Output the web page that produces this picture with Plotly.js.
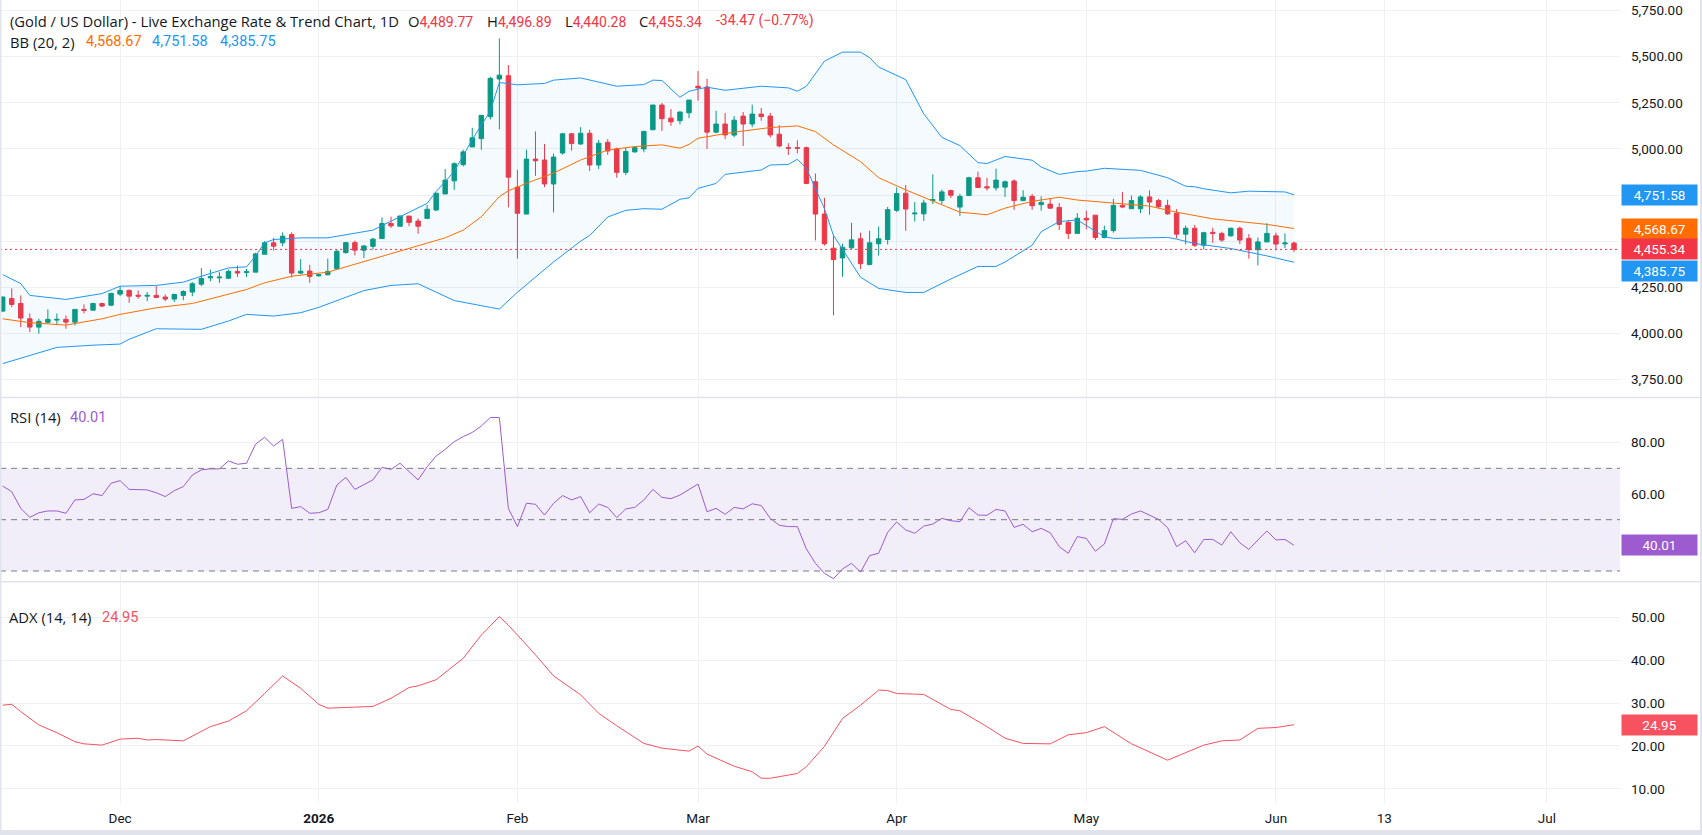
<!DOCTYPE html>
<html><head><meta charset="utf-8">
<script src="https://cdn.plot.ly/plotly-3.0.1.min.js"></script>
<style>html,body{margin:0;padding:0;background:#fff;overflow:hidden}#chart{width:1702px;height:835px}</style>
</head><body><div id="chart"></div>
<script>
// ---- Daily candles (bar index 0 = 12 Nov 2025 ... 143 = 3 Jun 2026) ----
const open=[4121,4189,4162,4079,4034,4060,4072,4076,4061,4130,
4126,4162,4153,4213,4233,4207,4202,4206,4197,4186,
4206,4224,4267,4301,4301,4299,4336,4330,4332,4429,
4491,4491,4536,4327,4338,4312,4318,4350,4438,4492,
4451,4472,4514,4596,4581,4636,4609,4623,4669,4756,
4827,4915,5011,5056,5175,5379,5397,4793,4647,4945,
4940,4810,4978,5082,5027,5085,4913,5036,5000,4873,
4984,5000,5104,5238,5167,5153,5196,5340,5336,5091,
5135,5075,5178,5135,5189,5178,5080,5007,5007,5007,
4822,4647,4462,4409,4464,4513,4373,4486,4509,4667,
4760,4648,4648,4720,4720,4774,4685,4747,4844,4795,
4789,4793,4826,4720,4743,4698,4701,4683,4602,4542,
4624,4641,4520,4557,4694,4676,4676,4740,4720,4694,
4652,4538,4570,4478,4548,4542,4529,4570,4515,4454,
4496,4529,4485,4489.77];
const high=[4200,4244,4206,4108,4079,4130,4108,4097,4131,4157,
4166,4166,4217,4256,4238,4233,4224,4256,4211,4215,
4234,4278,4354,4346,4332,4346,4368,4350,4437,4500,
4518,4548,4548,4403,4372,4323,4405,4454,4496,4503,
4478,4518,4629,4633,4640,4636,4623,4696,4760,4891,
4927,4996,5115,5182,5391,5600,5455,4887,4996,5095,
5027,4975,5087,5087,5118,5104,5049,5053,5007,5007,
5013,5098,5238,5249,5216,5204,5265,5422,5380,5207,
5195,5178,5200,5240,5222,5195,5129,5031,5047,5013,
4867,4735,4536,4486,4600,4546,4556,4580,4686,4791,
4804,4712,4725,4862,4780,4780,4756,4849,4877,4844,
4893,4829,4835,4776,4756,4743,4730,4707,4615,4652,
4665,4641,4584,4729,4767,4747,4749,4776,4729,4725,
4674,4584,4588,4551,4573,4551,4573,4579,4538,4520,
4597,4546,4542,4496.89];
const low=[4115,4142,4034,4007,3998,4054,4045,4025,4043,4108,
4124,4142,4148,4202,4166,4188,4175,4190,4175,4170,
4180,4202,4256,4283,4274,4296,4306,4306,4332,4429,
4449,4473,4303,4320,4274,4308,4314,4350,4432,4423,
4409,4454,4514,4572,4581,4581,4540,4623,4663,4756,
4778,4905,5011,4996,5160,5106,4683,4405,4647,4854,
4793,4656,4969,4991,5022,4880,4891,4967,4844,4858,
4980,4982,5104,5098,5125,5133,5167,5262,5000,5085,
5053,5064,5016,5118,5153,5062,5009,4967,4976,4809,
4504,4476,4098,4307,4458,4349,4373,4422,4482,4658,
4556,4606,4610,4701,4701,4734,4637,4747,4791,4774,
4774,4740,4670,4716,4670,4665,4676,4560,4511,4542,
4564,4506,4515,4546,4679,4676,4652,4643,4676,4643,
4515,4482,4469,4454,4491,4496,4524,4484,4405,4368,
4496,4451,4463,4440.28];
const close=[4197,4157,4083,4034,4065,4076,4076,4061,4130,4125,
4162,4148,4217,4233,4202,4202,4206,4195,4186,4211,
4227,4269,4298,4307,4305,4336,4327,4334,4431,4491,
4473,4527,4327,4337,4309,4318,4336,4445,4492,4451,
4474,4511,4596,4583,4636,4602,4581,4673,4760,4831,
4920,4984,5060,5182,5382,5400,4847,4651,4945,4936,
4810,4956,5082,5029,5085,4913,5031,4989,4873,4986,
5007,5095,5238,5164,5147,5200,5265,5331,5091,5135,
5076,5156,5135,5189,5175,5076,5016,5004,5004,4813,
4647,4486,4400,4467,4507,4378,4491,4513,4671,4758,
4674,4652,4707,4725,4767,4749,4743,4844,4791,4789,
4831,4822,4720,4738,4692,4710,4679,4591,4542,4624,
4615,4520,4557,4694,4685,4720,4740,4712,4688,4648,
4538,4570,4478,4546,4542,4506,4570,4506,4454,4496,
4542,4484,4489.81,4455.34];

// ---- Bollinger Bands (20, 2), read at sample bars ----
const bbUpperIdx=[0,2,3,7,11,13,17,20,22,25,27,28,29,30,33,36,41,44,46,47,48,50,52,54,55,57,60,61,64,68,71,72,73,75,76,78,80,84,87,88,89,91,93,95,96,97,100,102,104,106,108,109,111,114,115,117,119,120,122,126,129,131,132,133,136,138,142,143];
const bbUpper=[4319,4270,4206,4184,4216,4256,4260,4278,4310,4355,4361,4420,4491,4509,4518,4518,4560,4632,4678,4705,4769,4878,5051,5206,5360,5348,5355,5373,5385,5340,5349,5373,5371,5280,5313,5335,5318,5340,5331,5313,5340,5476,5525,5525,5495,5444,5376,5190,5063,5018,4926,4921,4959,4939,4902,4862,4877,4880,4895,4884,4844,4798,4795,4784,4762,4771,4767,4751.58];
const bbBasisIdx=[0,3,7,11,13,17,21,25,27,29,32,36,41,45,49,51,53,55,56,58,61,64,67,70,73,75,76,77,81,85,88,90,92,95,97,100,103,106,109,111,114,117,119,123,127,130,134,140,143];
const bbBasis=[4079,4058,4045,4079,4103,4139,4162,4211,4238,4274,4310,4332,4405,4460,4518,4560,4632,4742,4773,4814,4869,4940,4994,5013,5022,5004,5025,5058,5091,5116,5125,5094,5022,4931,4844,4778,4716,4657,4643,4679,4716,4738,4723,4705,4690,4657,4621,4591,4568.67];
const bbLowerIdx=[0,2,6,10,13,14,17,22,25,27,30,33,35,40,43,46,50,54,55,57,61,64,65,67,69,71,73,75,76,77,79,80,84,85,87,88,89,91,92,95,97,100,102,105,108,110,111,114,115,117,119,122,123,129,130,132,136,140,143];
const bbLower=[3836,3866,3924,3936,3942,3968,4025,4022,4067,4103,4094,4112,4141,4232,4260,4269,4178,4141,4132,4223,4387,4500,4531,4631,4667,4676,4673,4727,4735,4786,4813,4862,4886,4913,4916,4944,4895,4676,4531,4304,4244,4222,4222,4295,4363,4363,4387,4478,4551,4606,4615,4524,4515,4520,4511,4487,4460,4420,4385.75];

// ---- RSI (14), one value per bar ----
const rsi=[63.1,60.9,54.4,50.9,52.7,53.4,53.4,52.5,57.7,57.9,
60.1,59.4,64.2,65.2,61.8,61.6,61.6,60.5,59.0,61.3,
62.9,67.4,69.4,69.8,69.8,72.9,71.6,72.0,79.4,82.1,
78.7,81.3,54.4,55.1,52.5,52.7,54.0,63.5,66.5,61.8,
63.5,65.5,70.4,69.6,72.0,68.7,65.5,70.6,74.8,77.4,
80.4,82.4,84.0,86.5,89.8,89.8,54.4,47.3,56.4,56.0,
51.8,56.4,59.4,57.7,59.0,52.7,56.1,54.8,50.8,54.2,
54.8,57.7,61.8,58.7,58.2,59.6,61.8,63.9,53.1,54.4,
52.1,54.8,54.2,56.2,55.5,50.5,47.8,47.3,47.3,38.6,
33.0,29.1,27.0,30.8,33.0,29.6,36.0,36.9,45.1,49.1,
46.0,44.7,47.5,48.3,50.5,49.6,49.2,54.7,51.8,51.7,
54.0,53.4,47.0,48.2,45.3,46.6,44.9,39.5,36.9,43.4,
42.7,37.7,40.5,50.4,50.1,52.2,53.4,51.8,50.1,46.9,
39.5,41.8,37.1,42.3,42.3,40.1,45.3,41.0,38.4,42.1,
45.6,42.1,42.3,40.01];
const rsiLevels=[70,50,30];

// ---- ADX (14, 14), read at sample bars ----
const adxIdx=[0,1,2,4,6,8,9,11,13,15,16,17,20,23,25,27,29,31,33,35,36,38,41,43,45,46,48,51,53,55,56,58,59,61,64,66,68,71,73,76,77,78,81,83,84,85,88,89,91,93,95,97,98,99,102,105,106,109,111,113,116,118,120,122,125,129,133,135,137,139,141,143];
const adx=[29.5,29.7,28.0,24.9,23.1,21.0,20.5,20.2,21.6,21.8,21.4,21.5,21.2,24.5,25.8,28.2,32.2,36.3,33.4,29.7,28.8,29.0,29.2,31.1,33.6,34.0,35.4,40.4,45.8,50.1,48.1,43.5,41.2,36.3,31.9,27.6,24.7,20.6,19.5,18.8,20.0,18.1,15.3,14.0,12.5,12.5,13.6,15.2,19.9,26.4,29.5,33.0,32.9,32.2,32.0,28.5,28.2,24.5,21.8,20.6,20.5,22.6,23.1,24.5,20.5,16.7,20.2,21.2,21.4,24.1,24.3,24.95];

// ---- Axis ticks ----
const tickIdx=[13,35,57,77,99,120,141,153,171];
const tickLabels=['Dec','<b>2026</b>','Feb','Mar','Apr','May','Jun','13','Jul'];
const priceTicks=[3750,4000,4250,4500,4750,5000,5250,5500,5750];
const rsiTicks=[40,60,80];
const adxTicks=[10,20,30,40,50];

// ---------------------------------------------------------------
const bars=close.map((_,i)=>i);
const last=a=>a[a.length-1];
const fmt=v=>v.toLocaleString('en-US',{minimumFractionDigits:2,maximumFractionDigits:2});
const GREEN='#089981',RED='#f23645',BLUE='#2196f3',ORANGE='#ff6d00',PURPLE='#9c5bcf',ADXC='#f7525f';
const TXT='#131722',GRID='#eef0f4';
const FONT='Roboto, "Liberation Sans", Arial, sans-serif';
const LFONT='"Open Sans", Roboto, sans-serif';
const axisFont={family:FONT,size:13.5,color:TXT};

// tick labels that sit behind a value box are left blank (the gridline stays)
const boxedPrice=[last(bbUpper),last(bbBasis),last(close),last(bbLower)];
const priceText=priceTicks.map(v=>boxedPrice.some(b=>Math.abs(b-v)<70&&v>4400)?'':fmt(v));
const rsiText=rsiTicks.map(v=>Math.abs(v-last(rsi))<3?'':fmt(v));
const adxText=adxTicks.map(v=>fmt(v));

const traces=[
 {x:bbUpperIdx,y:bbUpper,mode:'lines',line:{color:BLUE,width:1},hoverinfo:'skip',xaxis:'x',yaxis:'y'},
 {x:bbLowerIdx,y:bbLower,mode:'lines',line:{color:BLUE,width:1},fill:'tonexty',fillcolor:'rgba(33,150,243,0.05)',hoverinfo:'skip',xaxis:'x',yaxis:'y'},
 {x:bbBasisIdx,y:bbBasis,mode:'lines',line:{color:ORANGE,width:1},hoverinfo:'skip',xaxis:'x',yaxis:'y'},
 {type:'candlestick',x:bars,open:open,high:high,low:low,close:close,xaxis:'x',yaxis:'y',
  increasing:{line:{color:GREEN,width:1},fillcolor:GREEN},
  decreasing:{line:{color:RED,width:1},fillcolor:RED},
  whiskerwidth:0,hoverinfo:'skip'},
 {x:bars,y:rsi,mode:'lines',line:{color:PURPLE,width:1},hoverinfo:'skip',xaxis:'x',yaxis:'y2'},
 {x:adxIdx,y:adx,mode:'lines',line:{color:ADXC,width:1},hoverinfo:'skip',xaxis:'x',yaxis:'y3'}
];

const H=803, W=1620; // plot area size in px
const py=px=>(H-px)/H;
const px=x=>x/W;

const shapes=[
 {type:'rect',xref:'paper',x0:0,x1:1,yref:'y2',y0:30,y1:70,fillcolor:'rgba(126,87,194,0.1)',line:{width:0},layer:'below'},
 ...rsiLevels.map(v=>({type:'line',xref:'paper',x0:0,x1:1,yref:'y2',y0:v,y1:v,line:{color:'#787b86',width:1,dash:'6px,5px'}})),
 {type:'line',xref:'paper',x0:0,x1:1,yref:'y',y0:last(close),y1:last(close),line:{color:RED,width:1,dash:'2px,3px'}},
 {type:'line',xref:'paper',x0:0,x1:1.06,yref:'paper',y0:py(397.5),y1:py(397.5),line:{color:'#e0e3eb',width:1.5}},
 {type:'line',xref:'paper',x0:0,x1:1.06,yref:'paper',y0:py(581.7),y1:py(581.7),line:{color:'#e0e3eb',width:1.5}},
 {type:'rect',xref:'paper',x0:0,x1:1.06,yref:'paper',y0:py(830),y1:py(836),fillcolor:'#e0e3eb',line:{width:0}},
 {type:'rect',xref:'paper',x0:0,x1:1.06,yref:'paper',y0:py(0),y1:py(-2),fillcolor:'#e0e3eb',line:{width:0}},
 {type:'line',xref:'paper',x0:0,x1:0,yref:'paper',y0:py(836),y1:py(-2),line:{color:'#e0e3eb',width:3}},
 {type:'line',xref:'paper',x0:1701/W,x1:1701/W,yref:'paper',y0:py(836),y1:py(-2),line:{color:'#e0e3eb',width:2}}
];

// legend pieces: labels in Open Sans, numbers in Roboto; each piece placed at its own x
const num=(t,c,s)=>'<span style="font-family:Roboto;font-size:'+(s||14)+'px;color:'+c+'">'+t+'</span>';
const chg=last(close)-close[close.length-2];
const pct=chg/close[close.length-2]*100;
const chgText=(chg<0?'-':'+')+fmt(Math.abs(chg))+' ('+(pct<0?'\u2212':'+')+Math.abs(pct).toFixed(2)+'%)';

const piece=(text,xpx,ypx)=>({xref:'paper',x:px(xpx-3),xanchor:'left',yref:'paper',y:py(ypx),yanchor:'middle',text:text,showarrow:false,font:{family:LFONT,size:14.75,color:TXT},align:'left'});
const box=(val,yref,color,yshift)=>({xref:'paper',x:1,xanchor:'left',xshift:1,yref:yref,y:val,yanchor:'middle',yshift:yshift||0,
 text:fmt(val),showarrow:false,font:{family:FONT,size:13.5,color:'#ffffff'},bgcolor:color,borderpad:2,width:71,align:'center'});

const annotations=[
 piece('(Gold / US Dollar) - Live Exchange Rate &amp; Trend Chart, 1D',11,21),
 piece('O'+num(fmt(last(open)),RED),409,21),
 piece('H'+num(fmt(last(high)),RED),488,21),
 piece('L'+num(fmt(last(low)),RED),566,21),
 piece('C'+num(fmt(last(close)),RED),640,21),
 piece(num(chgText,RED),717,21),
 piece('BB (20, 2)',11,42),
 piece(num(fmt(last(bbBasis)),ORANGE,14.5),87,42),
 piece(num(fmt(last(bbUpper)),BLUE,14.5),153,42),
 piece(num(fmt(last(bbLower)),BLUE,14.5),221,42),
 piece('RSI (14)',11,417),
 piece(num(fmt(last(rsi)),PURPLE,14.5),71,417),
 piece('ADX (14, 14)',10,617),
 piece(num(fmt(last(adx)),ADXC,14.5),103,617),
 box(last(bbUpper),'y',BLUE),
 box(last(bbBasis),'y',ORANGE),
 box(last(close),'y',RED),
 box(last(bbLower),'y',BLUE,-9),
 box(last(rsi),'y2',PURPLE),
 box(last(adx),'y3',ADXC)
];

const yCommon={side:'right',anchor:'x',showgrid:true,gridcolor:GRID,zeroline:false,showline:false,ticks:'',tickfont:axisFont,ticklabelstandoff:10,fixedrange:true};

const layout={
 width:1702,height:835,margin:{l:0,r:82,t:0,b:32},
 paper_bgcolor:'#ffffff',plot_bgcolor:'#ffffff',showlegend:false,hovermode:false,
 font:{family:FONT,color:TXT},
 xaxis:{range:[-0.3,179.1],anchor:'y3',tickvals:tickIdx,ticktext:tickLabels,showgrid:true,gridcolor:GRID,zeroline:false,showline:false,ticks:'',tickfont:axisFont,rangeslider:{visible:false},fixedrange:true,ticklabelstandoff:5},
 yaxis:Object.assign({},yCommon,{domain:[py(397),1],range:[3655.1,5807.5],tickvals:priceTicks,ticktext:priceText}),
 yaxis2:Object.assign({},yCommon,{domain:[py(580.7),py(398.5)],range:[26.22,97.22],tickvals:rsiTicks,ticktext:rsiText}),
 yaxis3:Object.assign({},yCommon,{domain:[0,py(582.7)],range:[6.74,57.98],tickvals:adxTicks,ticktext:adxText}),
 shapes:shapes,annotations:annotations
};

Plotly.newPlot('chart',traces,layout,{displayModeBar:false,staticPlot:true});
</script>
</body></html>
